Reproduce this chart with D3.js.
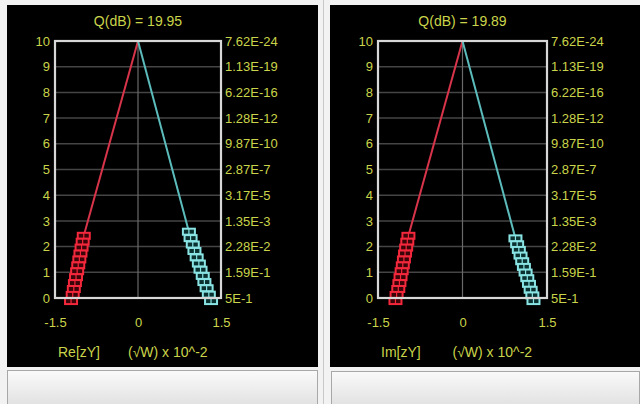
<!DOCTYPE html>
<html>
<head>
<meta charset="utf-8">
<script src="https://cdn.jsdelivr.net/npm/d3@7"></script>
<style>
  html, body { margin: 0; padding: 0; background: #f2f2f2; }
  svg { display: block; }
  text { font-family: "Liberation Sans", Arial, sans-serif; }
</style>
</head>
<body>
<svg id="chart" width="640" height="404"></svg>
<script>
// ---- data ----
const panelNames = ["Re[zY]", "Im[zY]"];
const qValues = [19.95, 19.89];
const unitLabel = "(\u221AW) x  10^-2";

const yTicks = [0, 1, 2, 3, 4, 5, 6, 7, 8, 9, 10];
const rightLabels = ["5E-1", "1.59E-1", "2.28E-2", "1.35E-3", "3.17E-5", "2.87E-7",
                     "9.87E-10", "1.28E-12", "6.22E-16", "1.13E-19", "7.62E-24"];
const xTicks = [-1.5, 0, 1.5];
const xTickLabels = ["-1.5", "0", "1.5"];

// common apex of both traces
const apexX = 0;
const apexY = 10;

// Re[zY] panel: red symbols
const reRedX = [-0.98, -1.00, -1.02, -1.04, -1.06, -1.08, -1.10, -1.12, -1.14, -1.16, -1.18, -1.21];
const reRedY = [2.42, 2.19, 1.96, 1.73, 1.50, 1.27, 1.04, 0.81, 0.58, 0.35, 0.12, -0.12];
// Re[zY] panel: cyan symbols
const reCyanX = [0.92, 0.95, 0.99, 1.02, 1.06, 1.10, 1.13, 1.17, 1.20, 1.24, 1.28, 1.32];
const reCyanY = [2.58, 2.33, 2.08, 1.83, 1.58, 1.34, 1.10, 0.86, 0.62, 0.38, 0.13, -0.12];
// Im[zY] panel: red symbols
const imRedX = [-0.96, -0.98, -1.00, -1.02, -1.04, -1.06, -1.08, -1.10, -1.12, -1.14, -1.17, -1.19];
const imRedY = [2.42, 2.19, 1.96, 1.73, 1.50, 1.27, 1.04, 0.81, 0.58, 0.35, 0.12, -0.12];
// Im[zY] panel: cyan symbols
const imCyanX = [0.94, 0.97, 1.00, 1.03, 1.06, 1.09, 1.12, 1.15, 1.18, 1.21, 1.24, 1.26];
const imCyanY = [2.32, 2.09, 1.87, 1.65, 1.43, 1.21, 0.99, 0.77, 0.55, 0.32, 0.10, -0.12];

const panelData = [
  { red: { x: reRedX, y: reRedY }, cyan: { x: reCyanX, y: reCyanY } },
  { red: { x: imRedX, y: imRedY }, cyan: { x: imCyanX, y: imCyanY } }
];

// ---- layout ----
const frames = [
  { bg: [7, 5, 311, 362], bar: [7, 370, 311, 34], plot: [55, 41, 221, 298] },
  { bg: [330, 5, 310, 362], bar: [331, 371, 309, 33], plot: [378, 41, 547, 298] }
];

const textColor = "#cad44a";
const redColor = "#f4283c";
const redLine = "#d8344a";
const cyanColor = "#8ae4e4";
const cyanLine = "#5cbcbc";

const svg = d3.select("#chart");

// bar gradient
const defs = svg.append("defs");
const grad = defs.append("linearGradient").attr("id", "barGrad")
  .attr("x1", 0).attr("y1", 0).attr("x2", 0).attr("y2", 1);
grad.append("stop").attr("offset", "0%").attr("stop-color", "#fafafa");
grad.append("stop").attr("offset", "100%").attr("stop-color", "#e2e2e2");

// separator between the two panels
svg.append("line").attr("x1", 323.5).attr("x2", 323.5).attr("y1", 0).attr("y2", 404)
  .attr("stroke", "#c8c8c8").attr("stroke-width", 1);

frames.forEach((f, i) => {
  const g = svg.append("g");
  g.append("rect").attr("x", f.bg[0]).attr("y", f.bg[1]).attr("width", f.bg[2]).attr("height", f.bg[3])
    .attr("fill", "#000");
  g.append("rect").attr("x", f.bar[0] + 0.5).attr("y", f.bar[1] + 0.5)
    .attr("width", f.bar[2] - 1).attr("height", f.bar[3])
    .attr("fill", "url(#barGrad)").attr("stroke", "#a8a8a8");

  const [px0, py0, px1, py1] = f.plot;
  const x = d3.scaleLinear().domain([-1.5, 1.5]).range([px0, px1]);
  const y = d3.scaleLinear().domain([0, 10]).range([py1, py0]);

  // horizontal grid
  g.append("g").selectAll("line").data(yTicks.slice(1, -1)).join("line")
    .attr("x1", px0).attr("x2", px1)
    .attr("y1", d => y(d)).attr("y2", d => y(d))
    .attr("stroke", "#454545").attr("stroke-width", 1.5);
  // vertical centre line
  g.append("line").attr("x1", x(0)).attr("x2", x(0)).attr("y1", py0).attr("y2", py1)
    .attr("stroke", "#6a6a6a").attr("stroke-width", 1.2);

  // axes (labels only)
  const styleAxis = sel => {
    sel.select(".domain").remove();
    sel.selectAll(".tick line").remove();
    sel.selectAll("text").attr("fill", textColor).style("font-size", "13px")
      .style("font-family", "'Liberation Sans', Arial, sans-serif");
  };
  g.append("g").attr("transform", `translate(${px0},0)`)
    .call(d3.axisLeft(y).tickValues(yTicks).tickSize(0).tickPadding(5).tickFormat(d3.format("d")))
    .call(styleAxis);
  g.append("g").attr("transform", `translate(${px1},0)`)
    .call(d3.axisRight(y).tickValues(yTicks).tickSize(0).tickPadding(4).tickFormat((d, k) => rightLabels[k]))
    .call(styleAxis);
  g.append("g").attr("transform", `translate(0,${py1})`)
    .call(d3.axisBottom(x).tickValues(xTicks).tickSize(0).tickPadding(20).tickFormat((d, k) => xTickLabels[k]))
    .call(styleAxis);

  // title
  g.append("text").attr("x", x(0)).attr("y", 26).attr("text-anchor", "middle")
    .attr("fill", textColor).style("font-size", "14px")
    .text(`Q(dB)  =  ${qValues[i].toFixed(2)}`);
  // bottom labels
  g.append("text").attr("x", px0 + 3).attr("y", 357).attr("fill", textColor).style("font-size", "14px")
    .text(panelNames[i]);
  g.append("text").attr("x", x(0) - 10).attr("y", 357).attr("fill", textColor).style("font-size", "14px")
    .text(unitLabel);

  const d = panelData[i];
  // traces from apex to the symbol strips
  [[d.red, redLine], [d.cyan, cyanLine]].forEach(([s, col]) => {
    g.append("line")
      .attr("x1", x(apexX)).attr("y1", y(apexY))
      .attr("x2", x(s.x[0])).attr("y2", y(s.y[0]))
      .attr("stroke", col).attr("stroke-width", 2);
  });

  // double-cell hollow square symbols
  const cellW = 6, cellH = 6;
  [[d.red, redColor, "#3a0408"], [d.cyan, cyanColor, "#0a3030"]].forEach(([s, col, fillCol]) => {
    const pts = s.x.map((v, k) => [v, s.y[k]]);
    const sym = g.append("g").selectAll("g").data(pts).join("g")
      .attr("transform", p => `translate(${x(p[0])},${y(p[1])})`);
    sym.append("rect").attr("x", -cellW).attr("y", -cellH / 2).attr("width", cellW * 2).attr("height", cellH)
      .attr("fill", fillCol).attr("stroke", col).attr("stroke-width", 2);
    sym.append("line").attr("x1", 0).attr("x2", 0).attr("y1", -cellH / 2).attr("y2", cellH / 2)
      .attr("stroke", col).attr("stroke-width", 1.2);
  });

  // plot border
  g.append("rect").attr("x", px0).attr("y", py0).attr("width", px1 - px0).attr("height", py1 - py0)
    .attr("fill", "none").attr("stroke", "#d8d8d8").attr("stroke-width", 2.2);
});
</script>
</body>
</html>
